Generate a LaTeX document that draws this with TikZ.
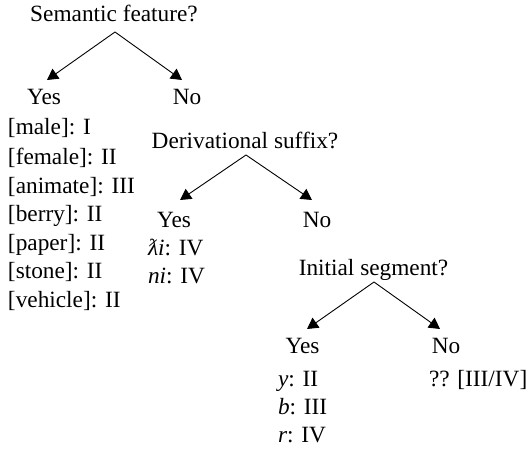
\documentclass[tikz,border=0pt]{standalone}
\usepackage{fontspec}
\setmainfont{Liberation Serif}
\usetikzlibrary{arrows.meta}
\tikzset{
  txt/.style={inner sep=0pt, outer sep=0pt, font=\fontsize{23.3}{27}\selectfont},
  lbl/.style={txt, anchor=base},
  itm/.style={txt, anchor=base west},
  arr/.style={line width=0.9pt, -{Triangle[length=11pt,width=12pt]}}
}
\begin{document}
\begin{tikzpicture}[x=1pt,y=-1pt]
\useasboundingbox (0,0) rectangle (526,449);
% level 1
\node[lbl] (q1) at (114,22) {Semantic feature?};
\node[lbl] (yes1) at (44,105) {Yes};
\node[lbl] (no1) at (187,105) {No};
\node[itm] (m1) at (8,135) {[male]: I};
\node[itm] (m2) at (8,164) {[female]: II};
\node[itm] (m3) at (8,193) {[animate]: III};
\node[itm] (m4) at (8,221) {[berry]: II};
\node[itm] (m5) at (8,250) {[paper]: II};
\node[itm] (m6) at (8,278) {[stone]: II};
\node[itm] (m7) at (8,307) {[vehicle]: II};
% level 2
\node[lbl] (q2) at (245,148) {Derivational suffix?};
\node[lbl] (yes2) at (174,227) {Yes};
\node[lbl] (no2) at (317,227) {No};
\node[itm] (d1) at (148,255) {\textit{\symbol{"019B}i}: IV};
\node[itm] (d2) at (148,283) {\textit{ni}: IV};
% level 3
\node[lbl] (q3) at (373.5,275) {Initial segment?};
\node[lbl] (yes3) at (302.5,353) {Yes};
\node[lbl] (no3) at (446,353) {No};
\node[itm] (s1) at (278,386) {\textit{y}: II};
\node[itm] (s2) at (278,414) {\textit{b}: III};
\node[itm] (s3) at (278,442) {\textit{r}: IV};
\node[itm] (u1) at (429,386) {?? [III/IV]};
% connectors
\draw[arr] ([shift={(1,10)}]q1.base) -- ([shift={(3,-25)}]yes1.base);
\draw[arr] ([shift={(1,10)}]q1.base) -- ([shift={(-5,-25)}]no1.base);
\draw[arr] ([shift={(1,7)}]q2.base) -- ([shift={(6,-27)}]yes2.base);
\draw[arr] ([shift={(1,7)}]q2.base) -- ([shift={(-5,-27)}]no2.base);
\draw[arr] ([shift={(0.5,7)}]q3.base) -- ([shift={(4.5,-24)}]yes3.base);
\draw[arr] ([shift={(0.5,7)}]q3.base) -- ([shift={(-6,-24)}]no3.base);
\end{tikzpicture}
\end{document}
